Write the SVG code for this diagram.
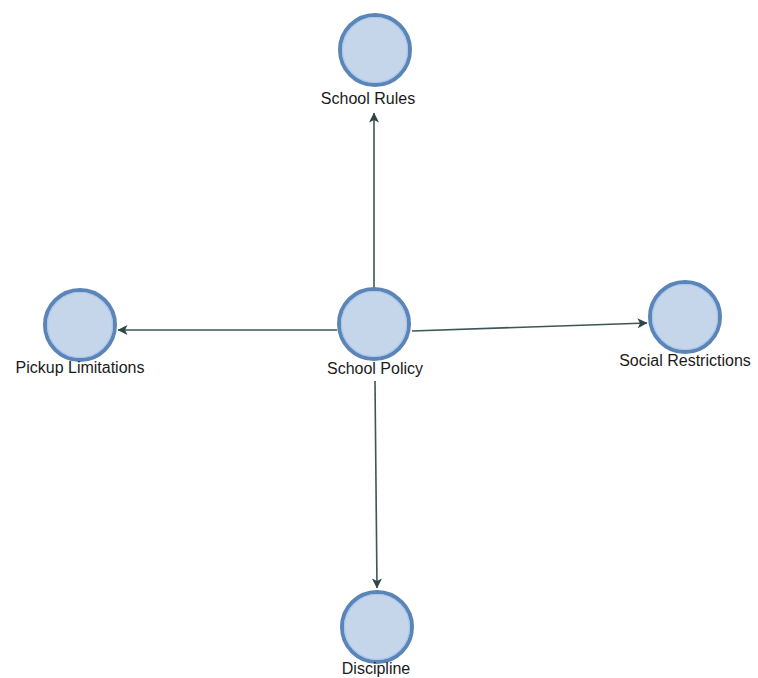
<svg xmlns="http://www.w3.org/2000/svg" width="758" height="678" viewBox="0 0 758 678">
  <style>
    .bg { fill: #ffffff; }
    .node-disc { fill: #c6d6ea; stroke: #5b85b6; stroke-width: 4; }
    .node-rim { fill: none; stroke: #a9c7ee; stroke-width: 1.2; }
    .label { font-family: "Liberation Sans", Arial, sans-serif; font-size: 16px; fill: #1a1a1a; text-anchor: middle; }
    .edge { fill: none; stroke: #3e5656; stroke-width: 1.6; marker-end: url(#arrow); }
  </style>
  <defs>
    <marker id="arrow" viewBox="0 0 10 10" refX="9.5" refY="5" markerWidth="11" markerHeight="10" orient="auto" markerUnits="userSpaceOnUse">
      <path d="M0,0 L10,5 L0,10 L2.5,5 Z" fill="#2f4646"/>
    </marker>
  </defs>
  <rect class="bg" x="0" y="0" width="758" height="678"/>

  <g id="connectors">
    <line class="edge" x1="374" y1="288" x2="374" y2="113"/>
    <line class="edge" x1="337" y1="330" x2="118" y2="330"/>
    <line class="edge" x1="412" y1="331" x2="647" y2="323"/>
    <line class="edge" x1="375" y1="381" x2="377" y2="588"/>
  </g>

  <g id="school-rules">
    <circle class="node-disc" cx="375" cy="50" r="35"/>
    <circle class="node-rim" cx="375" cy="50" r="32.5"/>
    <text class="label" x="368" y="104">School Rules</text>
  </g>

  <g id="school-policy">
    <circle class="node-disc" cx="374" cy="324" r="35"/>
    <circle class="node-rim" cx="374" cy="324" r="32.5"/>
    <text class="label" x="375" y="374">School Policy</text>
  </g>

  <g id="pickup-limitations">
    <circle class="node-disc" cx="80" cy="325" r="35"/>
    <circle class="node-rim" cx="80" cy="325" r="32.5"/>
    <text class="label" x="80" y="373">Pickup Limitations</text>
  </g>

  <g id="social-restrictions">
    <circle class="node-disc" cx="685" cy="317" r="35"/>
    <circle class="node-rim" cx="685" cy="317" r="32.5"/>
    <text class="label" x="685" y="366">Social Restrictions</text>
  </g>

  <g id="discipline">
    <circle class="node-disc" cx="377" cy="627" r="35"/>
    <circle class="node-rim" cx="377" cy="627" r="32.5"/>
    <text class="label" x="376" y="674">Discipline</text>
  </g>
</svg>
